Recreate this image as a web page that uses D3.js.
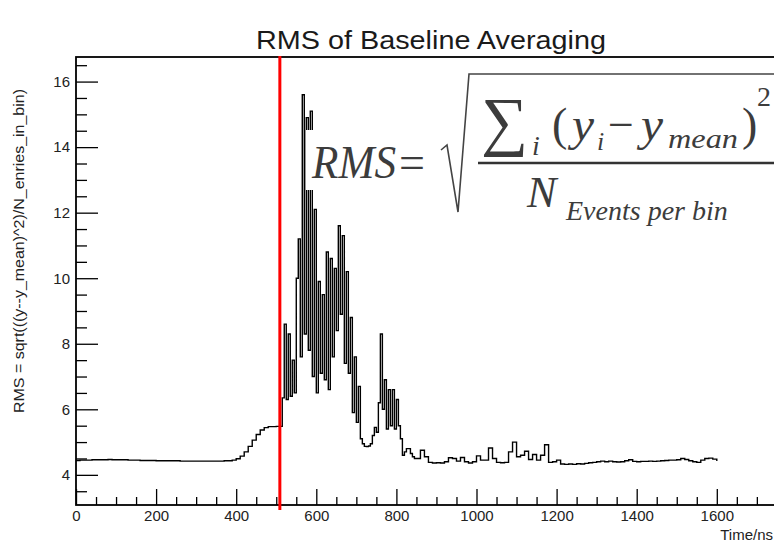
<!DOCTYPE html>
<html>
<head>
<meta charset="utf-8">
<script src="https://cdn.jsdelivr.net/npm/d3@7"></script>
<style>
  body { margin: 0; background: #fff; }
  text { font-family: "Liberation Sans", Arial, sans-serif; }
</style>
</head>
<body>
<div id="chart"></div>
<script>
// ---- data ----
// baseline part, one bin every 10 ns from 0 to 500 ns
var preStart = 0, preStep = 10;
var preRms = [
  4.44, 4.45, 4.45, 4.45, 4.46, 4.46, 4.46, 4.46, 4.47, 4.46,
  4.46, 4.46, 4.46, 4.45, 4.45, 4.45, 4.44, 4.44, 4.44, 4.44,
  4.43, 4.43, 4.43, 4.43, 4.43, 4.43, 4.42, 4.42, 4.42, 4.42,
  4.42, 4.42, 4.42, 4.42, 4.42, 4.42, 4.42, 4.43, 4.43, 4.45,
  4.49, 4.57, 4.70, 4.87, 5.06, 5.23, 5.37, 5.44, 5.47, 5.47,
  5.48
];
// signal part, one bin every 5 ns from 510 to 845 ns
var burstStart = 510, burstStep = 5;
var burstRms = [
  5.48, 6.35, 8.6, 6.3, 8.3, 6.4, 7.5, 6.5, 10.0, 11.2,
  7.6, 15.6, 8.3, 14.9, 7.8, 15.1, 7.0, 12.1, 6.5, 9.9,
  7.1, 9.5, 6.9, 10.8, 6.6, 10.6, 7.6, 10.3, 8.4, 11.6,
  8.9, 11.3, 7.4, 10.2, 7.1, 8.8, 5.9, 7.6, 5.6, 6.7,
  5.1, 4.95, 4.87, 4.86, 4.88, 4.95, 5.2, 5.45, 5.3, 6.2,
  8.3, 6.0, 6.9, 5.4, 6.6, 5.5, 6.6, 5.4, 6.3, 5.5,
  5.1, 4.6, 4.7, 4.8, 4.8, 4.65, 4.55, 4.5
];
// tail, one bin every 10 ns from 850 to 1600 ns
var tailStart = 850, tailStep = 10;
var tailRms = [
  4.5, 4.75, 4.55, 4.38, 4.36, 4.37, 4.36, 4.4, 4.52, 4.5,
  4.42, 4.53, 4.4, 4.36, 4.4, 4.58, 4.45, 4.45, 4.82, 4.5,
  4.38, 4.37, 4.38, 4.7, 5.0, 4.55, 4.6, 4.72, 4.47, 4.62,
  4.45, 4.6, 4.92, 4.38, 4.4, 4.45, 4.33, 4.32, 4.33, 4.32,
  4.34, 4.33, 4.35, 4.37, 4.38, 4.4, 4.42, 4.4, 4.42, 4.4,
  4.39, 4.4, 4.43, 4.46, 4.41, 4.4, 4.41, 4.41, 4.42, 4.41,
  4.42, 4.43, 4.44, 4.45, 4.45, 4.46, 4.5, 4.47, 4.43, 4.4,
  4.38, 4.45, 4.5, 4.51, 4.48, 4.42
];
var cutTime = 509;   // red marker
var xTicks = [0, 200, 400, 600, 800, 1000, 1200, 1400, 1600];
var yTicks = [4, 6, 8, 10, 12, 14, 16];

var svgWidth = 774;
var svgHeight = 545;
var margin = { top: 57, right: 0, bottom: 40, left: 76 };
var plotBottom = svgHeight - margin.bottom;

var svg = d3.select("#chart")
  .append("svg")
  .attr("width", svgWidth)
  .attr("height", svgHeight);

// build the points from the three parts
var points = [];
preRms.forEach(function(v, i) { points.push([preStart + i * preStep, v]); });
burstRms.forEach(function(v, i) { points.push([burstStart + i * burstStep, v]); });
tailRms.forEach(function(v, i) { points.push([tailStart + i * tailStep, v]); });

// scales
var x = d3.scaleLinear().domain([0, 1800]).range([margin.left, margin.left + 80.1 * 9]);
var y = d3.scaleLinear().domain([3.08, 16.75]).range([plotBottom, margin.top]);

// axes (ticks pointing into the frame, ROOT style)
var xMinor = d3.range(0, 1801, 50).filter(function(d) { return d % 200 !== 0; });
svg.append("g")
  .attr("transform", `translate(0, ${plotBottom})`)
  .call(d3.axisBottom(x).tickValues(xMinor).tickSize(-8).tickSizeOuter(0).tickFormat(""))
  .call(function(g) { g.select(".domain").remove(); });

var xAxis = svg.append("g")
  .attr("class", "xaxis")
  .attr("transform", `translate(0, ${plotBottom})`)
  .call(d3.axisBottom(x).tickValues(xTicks).tickSize(-16).tickSizeOuter(0).tickPadding(5).tickFormat(d3.format("d")));
xAxis.select(".domain").remove();

var yMinor = d3.range(3.5, 16.75, 0.5).filter(function(d) { return d % 2 !== 0; });
svg.append("g")
  .attr("transform", `translate(${margin.left}, 0)`)
  .call(d3.axisLeft(y).tickValues(yMinor).tickSize(-11).tickSizeOuter(0).tickFormat(""))
  .call(function(g) { g.select(".domain").remove(); });

var yAxis = svg.append("g")
  .attr("class", "yaxis")
  .attr("transform", `translate(${margin.left}, 0)`)
  .call(d3.axisLeft(y).tickValues(yTicks).tickSize(-22).tickSizeOuter(0).tickPadding(6).tickFormat(d3.format("d")));
yAxis.select(".domain").remove();

svg.selectAll(".tick line").attr("stroke", "#000").attr("stroke-width", 1.3);
svg.selectAll(".tick text")
  .attr("fill", "#222")
  .style("font-size", "15px")
  .style("font-family", '"Liberation Sans", Arial, sans-serif');

// frame
svg.append("rect")
  .attr("x", margin.left)
  .attr("y", margin.top)
  .attr("width", svgWidth + 20)
  .attr("height", plotBottom - margin.top)
  .attr("fill", "none")
  .attr("stroke", "#000")
  .attr("stroke-width", 1.8);

// the RMS curve
var line = d3.line()
  .x(function(d) { return x(d[0]); })
  .y(function(d) { return y(d[1]); })
  .curve(d3.curveStepAfter);

svg.append("path")
  .datum(points)
  .attr("d", line)
  .attr("fill", "none")
  .attr("stroke", "#000")
  .attr("stroke-width", 1.4);

// red marker line
svg.append("line")
  .attr("x1", x(cutTime)).attr("x2", x(cutTime))
  .attr("y1", margin.top - 1).attr("y2", plotBottom + 5)
  .attr("stroke", "#ff0000")
  .attr("stroke-width", 3);

// title and axis titles
svg.append("text")
  .attr("x", 431)
  .attr("y", 49)
  .attr("text-anchor", "middle")
  .attr("textLength", 350)
  .attr("lengthAdjust", "spacingAndGlyphs")
  .style("font-size", "25px")
  .attr("fill", "#1a1a1a")
  .text("RMS of Baseline Averaging");

svg.append("text")
  .attr("x", 773)
  .attr("y", 540)
  .attr("text-anchor", "end")
  .style("font-size", "15px")
  .attr("fill", "#222")
  .text("Time/ns");

svg.append("text")
  .attr("transform", "translate(24, 251) rotate(-90)")
  .attr("text-anchor", "middle")
  .attr("textLength", 324)
  .attr("lengthAdjust", "spacingAndGlyphs")
  .style("font-size", "15px")
  .attr("fill", "#222")
  .text("RMS = sqrt(((y--y_mean)^2)/N_enries_in_bin)");

// pasted formula
var eq = svg.append("g").attr("fill", "#3c3c3c");

function eqText(tx, ty, size, str, upright, len) {
  var t = eq.append("text")
    .attr("x", tx).attr("y", ty)
    .style("font-size", size + "px")
    .style("font-family", '"Liberation Serif", "DejaVu Serif", serif')
    .style("font-style", upright ? "normal" : "italic")
    .text(str);
  if (len) t.attr("textLength", len).attr("lengthAdjust", "spacingAndGlyphs");
}

eq.append("rect").attr("x", 306).attr("y", 130).attr("width", 140).attr("height", 60).attr("fill", "#fff");
eqText(312, 178, 46, "RMS", false, 84);
eqText(399, 178, 46, "=", true);
eqText(481, 143, 66, "\u2211", true);
eqText(532, 155, 28, "i");
eqText(552, 140, 46, "(", true);
eqText(572, 140, 46, "y", false, 22);
eqText(597, 150, 26, "i");
eqText(608, 140, 46, "\u2212", true);
eqText(641, 140, 46, "y", false, 22);
eqText(668, 148, 28, "mean", false, 70);
eqText(742, 140, 46, ")", true);
eqText(757, 106, 28, "2", true);
eqText(527, 207, 44, "N");
eqText(566, 220, 28, "Events per bin");

eq.append("path")
  .attr("d", "M441,150 L447,145 L458,212 L469,74 L780,74")
  .attr("fill", "none")
  .attr("stroke", "#444")
  .attr("stroke-width", 1.6);

eq.append("line")
  .attr("x1", 478).attr("x2", 780)
  .attr("y1", 163).attr("y2", 163)
  .attr("stroke", "#333")
  .attr("stroke-width", 2.6);
</script>
</body>
</html>
